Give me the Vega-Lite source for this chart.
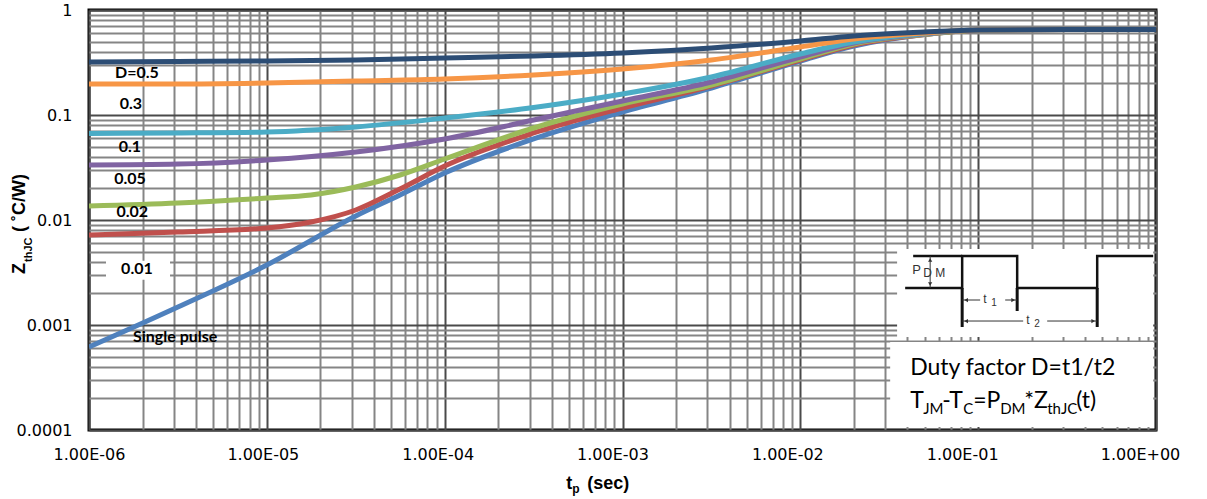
{
  "$schema": "https://vega.github.io/schema/vega-lite/v6.json",
  "width": 1067,
  "height": 420,
  "autosize": "none",
  "padding": {"left": 89, "top": 10, "right": 51, "bottom": 69},
  "background": "white",
  "config": {
    "view": {"stroke": "#000000", "strokeWidth": 3},
    "axis": {"domain": false, "ticks": false, "tickSize": 0, "labelFont": "DejaVu Sans", "labelFontSize": 16, "labelColor": "#000000", "labelOverlap": false, "labelFlush": false, "labelBound": false}
  },
  "datasets": {
    "one": [{}],
    "curves": [
      {"t": 1e-6, "z": 0.000617, "s": "Single pulse"},
      {"t": 3.162e-6, "z": 0.001484, "s": "Single pulse"},
      {"t": 1e-5, "z": 0.003727, "s": "Single pulse"},
      {"t": 3.162e-5, "z": 0.01092, "s": "Single pulse"},
      {"t": 5.61e-5, "z": 0.0173, "s": "Single pulse"},
      {"t": 1e-4, "z": 0.02803, "s": "Single pulse"},
      {"t": 3.162e-4, "z": 0.0591, "s": "Single pulse"},
      {"t": 1e-3, "z": 0.1068, "s": "Single pulse"},
      {"t": 3.162e-3, "z": 0.1807, "s": "Single pulse"},
      {"t": 0.01, "z": 0.3267, "s": "Single pulse"},
      {"t": 0.02, "z": 0.4541, "s": "Single pulse"},
      {"t": 0.05, "z": 0.5843, "s": "Single pulse"},
      {"t": 0.1, "z": 0.64, "s": "Single pulse"},
      {"t": 0.3162, "z": 0.652, "s": "Single pulse"},
      {"t": 1, "z": 0.652, "s": "Single pulse"},
      {"t": 1e-6, "z": 0.0072, "s": "0.01"},
      {"t": 3.162e-6, "z": 0.00769, "s": "0.01"},
      {"t": 1e-5, "z": 0.00839, "s": "0.01"},
      {"t": 1.773e-5, "z": 0.00957, "s": "0.01"},
      {"t": 3.162e-5, "z": 0.01245, "s": "0.01"},
      {"t": 5.61e-5, "z": 0.01973, "s": "0.01"},
      {"t": 1e-4, "z": 0.03268, "s": "0.01"},
      {"t": 3.162e-4, "z": 0.0674, "s": "0.01"},
      {"t": 1e-3, "z": 0.1166, "s": "0.01"},
      {"t": 3.162e-3, "z": 0.1889, "s": "0.01"},
      {"t": 0.01, "z": 0.334, "s": "0.01"},
      {"t": 0.02, "z": 0.4642, "s": "0.01"},
      {"t": 0.05, "z": 0.5843, "s": "0.01"},
      {"t": 0.1, "z": 0.64, "s": "0.01"},
      {"t": 0.3162, "z": 0.652, "s": "0.01"},
      {"t": 1, "z": 0.652, "s": "0.01"},
      {"t": 1e-6, "z": 0.01359, "s": "0.02"},
      {"t": 3.162e-6, "z": 0.01452, "s": "0.02"},
      {"t": 1e-5, "z": 0.0162, "s": "0.02"},
      {"t": 1.773e-5, "z": 0.0173, "s": "0.02"},
      {"t": 3.162e-5, "z": 0.02062, "s": "0.02"},
      {"t": 5.61e-5, "z": 0.02683, "s": "0.02"},
      {"t": 1e-4, "z": 0.0381, "s": "0.02"},
      {"t": 3.162e-4, "z": 0.0752, "s": "0.02"},
      {"t": 1e-3, "z": 0.1272, "s": "0.02"},
      {"t": 3.162e-3, "z": 0.1931, "s": "0.02"},
      {"t": 0.01, "z": 0.3415, "s": "0.02"},
      {"t": 0.02, "z": 0.4746, "s": "0.02"},
      {"t": 0.05, "z": 0.5843, "s": "0.02"},
      {"t": 0.1, "z": 0.64, "s": "0.02"},
      {"t": 0.3162, "z": 0.652, "s": "0.02"},
      {"t": 1, "z": 0.652, "s": "0.02"},
      {"t": 1e-6, "z": 0.0334, "s": "0.05"},
      {"t": 3.162e-6, "z": 0.0341, "s": "0.05"},
      {"t": 1e-5, "z": 0.0373, "s": "0.05"},
      {"t": 3.162e-5, "z": 0.0444, "s": "0.05"},
      {"t": 1e-4, "z": 0.0591, "s": "0.05"},
      {"t": 3.162e-4, "z": 0.0896, "s": "0.05"},
      {"t": 1e-3, "z": 0.136, "s": "0.05"},
      {"t": 3.162e-3, "z": 0.2062, "s": "0.05"},
      {"t": 0.01, "z": 0.3566, "s": "0.05"},
      {"t": 0.02, "z": 0.485, "s": "0.05"},
      {"t": 0.05, "z": 0.5908, "s": "0.05"},
      {"t": 0.1, "z": 0.645, "s": "0.05"},
      {"t": 0.3162, "z": 0.652, "s": "0.05"},
      {"t": 1, "z": 0.652, "s": "0.05"},
      {"t": 1e-6, "z": 0.0666, "s": "0.1"},
      {"t": 3.162e-6, "z": 0.0674, "s": "0.1"},
      {"t": 1e-5, "z": 0.0689, "s": "0.1"},
      {"t": 3.162e-5, "z": 0.0769, "s": "0.1"},
      {"t": 1e-4, "z": 0.0936, "s": "0.1"},
      {"t": 3.162e-4, "z": 0.1179, "s": "0.1"},
      {"t": 1e-3, "z": 0.1585, "s": "0.1"},
      {"t": 3.162e-3, "z": 0.2301, "s": "0.1"},
      {"t": 0.01, "z": 0.3811, "s": "0.1"},
      {"t": 0.02, "z": 0.4956, "s": "0.1"},
      {"t": 0.05, "z": 0.5973, "s": "0.1"},
      {"t": 0.1, "z": 0.645, "s": "0.1"},
      {"t": 0.3162, "z": 0.652, "s": "0.1"},
      {"t": 1, "z": 0.652, "s": "0.1"},
      {"t": 1e-6, "z": 0.1973, "s": "0.3"},
      {"t": 3.162e-6, "z": 0.1973, "s": "0.3"},
      {"t": 1e-5, "z": 0.2017, "s": "0.3"},
      {"t": 3.162e-5, "z": 0.2108, "s": "0.3"},
      {"t": 1e-4, "z": 0.2203, "s": "0.3"},
      {"t": 3.162e-4, "z": 0.2404, "s": "0.3"},
      {"t": 1e-3, "z": 0.2742, "s": "0.3"},
      {"t": 3.162e-3, "z": 0.334, "s": "0.3"},
      {"t": 0.01, "z": 0.4442, "s": "0.3"},
      {"t": 0.02, "z": 0.5295, "s": "0.3"},
      {"t": 0.05, "z": 0.6039, "s": "0.3"},
      {"t": 0.1, "z": 0.645, "s": "0.3"},
      {"t": 0.3162, "z": 0.652, "s": "0.3"},
      {"t": 1, "z": 0.652, "s": "0.3"},
      {"t": 1e-6, "z": 0.3197, "s": "0.5"},
      {"t": 3.162e-6, "z": 0.3232, "s": "0.5"},
      {"t": 1e-5, "z": 0.3267, "s": "0.5"},
      {"t": 3.162e-5, "z": 0.334, "s": "0.5"},
      {"t": 1e-4, "z": 0.349, "s": "0.5"},
      {"t": 3.162e-4, "z": 0.3646, "s": "0.5"},
      {"t": 1e-3, "z": 0.3895, "s": "0.5"},
      {"t": 3.162e-3, "z": 0.4346, "s": "0.5"},
      {"t": 0.01, "z": 0.5068, "s": "0.5"},
      {"t": 0.02, "z": 0.5654, "s": "0.5"},
      {"t": 0.05, "z": 0.6172, "s": "0.5"},
      {"t": 0.1, "z": 0.645, "s": "0.5"},
      {"t": 0.3162, "z": 0.652, "s": "0.5"},
      {"t": 1, "z": 0.652, "s": "0.5"}
    ],
    "labels": [
      {"t": 1.86e-6, "z": 0.251, "label": "D=0.5"},
      {"t": 1.72e-6, "z": 0.127, "label": "0.3"},
      {"t": 1.70e-6, "z": 0.0496, "label": "0.1"},
      {"t": 1.70e-6, "z": 0.0246, "label": "0.05"},
      {"t": 1.75e-6, "z": 0.0119, "label": "0.02"},
      {"t": 1.86e-6, "z": 0.00341, "label": "0.01"},
      {"t": 3.05e-6, "z": 0.000769, "label": "Single pulse"}
    ],
    "pulse": [
      {"part": "wave", "seg": 1, "o": 1, "t": 0.03886, "z": 0.002251},
      {"part": "wave", "seg": 1, "o": 2, "t": 0.08128, "z": 0.002251},
      {"part": "wave", "seg": 1, "o": 3, "t": 0.08128, "z": 0.004541},
      {"part": "wave", "seg": 1, "o": 4, "t": 0.1657, "z": 0.004541},
      {"part": "wave", "seg": 1, "o": 5, "t": 0.1657, "z": 0.002251},
      {"part": "wave", "seg": 1, "o": 6, "t": 0.467, "z": 0.002251},
      {"part": "wave", "seg": 1, "o": 7, "t": 0.467, "z": 0.004541},
      {"part": "wave", "seg": 1, "o": 8, "t": 0.9645, "z": 0.004541},
      {"part": "wave", "seg": 2, "o": 1, "t": 0.0431, "z": 0.004541},
      {"part": "wave", "seg": 2, "o": 2, "t": 0.08128, "z": 0.004541},
      {"part": "thin", "seg": 3, "o": 1, "t": 0.0537, "z": 0.004541},
      {"part": "thin", "seg": 3, "o": 2, "t": 0.0537, "z": 0.002251},
      {"part": "mark", "seg": 4, "o": 1, "t": 0.08128, "z": 0.002251},
      {"part": "mark", "seg": 4, "o": 2, "t": 0.08128, "z": 0.000957},
      {"part": "mark", "seg": 5, "o": 1, "t": 0.1657, "z": 0.002251},
      {"part": "mark", "seg": 5, "o": 2, "t": 0.1657, "z": 0.001359},
      {"part": "mark", "seg": 6, "o": 1, "t": 0.467, "z": 0.002251},
      {"part": "mark", "seg": 6, "o": 2, "t": 0.467, "z": 0.000957},
      {"part": "thin", "seg": 7, "o": 1, "t": 0.08128, "z": 0.00173},
      {"part": "thin", "seg": 7, "o": 2, "t": 0.1026, "z": 0.00173},
      {"part": "thin", "seg": 8, "o": 1, "t": 0.1419, "z": 0.00173},
      {"part": "thin", "seg": 8, "o": 2, "t": 0.1657, "z": 0.00173},
      {"part": "thin", "seg": 9, "o": 1, "t": 0.08128, "z": 0.001091},
      {"part": "thin", "seg": 9, "o": 2, "t": 0.1791, "z": 0.001091},
      {"part": "thin", "seg": 10, "o": 1, "t": 0.2444, "z": 0.001091},
      {"part": "thin", "seg": 10, "o": 2, "t": 0.467, "z": 0.001091}
    ],
    "arrows": [
      {"t": 0.0537, "z": 0.004159, "dir": "up"},
      {"t": 0.0537, "z": 0.002458, "dir": "down"},
      {"t": 0.0856, "z": 0.00173, "dir": "left"},
      {"t": 0.1573, "z": 0.00173, "dir": "right"},
      {"t": 0.0856, "z": 0.001091, "dir": "left"},
      {"t": 0.4434, "z": 0.001091, "dir": "right"}
    ]
  },
  "layer": [
    {
      "data": {"name": "curves"},
      "mark": {"type": "line", "strokeWidth": 5, "interpolate": "monotone", "clip": true},
      "encoding": {
        "x": {
          "field": "t", "type": "quantitative",
          "scale": {"type": "log", "domain": [1e-6, 1], "nice": false},
          "axis": {
            "title": null, "orient": "bottom", "grid": true, "labelPadding": 16, "labelAlign": "center",
            "values": [1e-6,2e-6,3e-6,4e-6,5e-6,6e-6,7e-6,8e-6,9e-6,1e-5,2e-5,3e-5,4e-5,5e-5,6e-5,7e-5,8e-5,9e-5,1e-4,2e-4,3e-4,4e-4,5e-4,6e-4,7e-4,8e-4,9e-4,1e-3,2e-3,3e-3,4e-3,5e-3,6e-3,7e-3,8e-3,9e-3,0.01,0.02,0.03,0.04,0.05,0.06,0.07,0.08,0.09,0.1,0.2,0.3,0.4,0.5,0.6,0.7,0.8,0.9,1],
            "labelExpr": "abs(log(datum.value)/LN10 - round(log(datum.value)/LN10)) < 0.01 ? '1.00E' + (round(log(datum.value)/LN10) < 0 ? '-' : '+') + '0' + abs(round(log(datum.value)/LN10)) : ''",
            "labelOffset": {"condition": [
              {"test": "abs(log(datum.value)/LN10 + 5) < 0.01", "value": -4},
              {"test": "abs(log(datum.value)/LN10 + 4) < 0.01", "value": -7},
              {"test": "abs(log(datum.value)/LN10 + 3) < 0.01", "value": -10},
              {"test": "abs(log(datum.value)/LN10 + 2) < 0.01", "value": -13},
              {"test": "abs(log(datum.value)/LN10 + 1) < 0.01", "value": -16},
              {"test": "abs(log(datum.value)/LN10) < 0.01", "value": -16}
            ], "value": 0},
            "gridColor": {"condition": {"test": "abs(log(datum.value)/LN10 - round(log(datum.value)/LN10)) < 0.01", "value": "#4a4a4a"}, "value": "#858585"},
            "gridWidth": 2
          }
        },
        "y": {
          "field": "z", "type": "quantitative",
          "scale": {"type": "log", "domain": [0.0001, 1], "nice": false},
          "axis": {
            "title": null, "grid": true, "labelPadding": 17,
            "values": [0.0001,0.0002,0.0003,0.0004,0.0005,0.0006,0.0007,0.0008,0.0009,0.001,0.002,0.003,0.004,0.005,0.006,0.007,0.008,0.009,0.01,0.02,0.03,0.04,0.05,0.06,0.07,0.08,0.09,0.1,0.2,0.3,0.4,0.5,0.6,0.7,0.8,0.9,1],
            "labelExpr": "abs(log(datum.value)/LN10 - round(log(datum.value)/LN10)) < 0.01 ? format(datum.value, '~g') : ''",
            "gridColor": {"condition": {"test": "abs(log(datum.value)/LN10 - round(log(datum.value)/LN10)) < 0.01", "value": "#4a4a4a"}, "value": "#858585"},
            "gridWidth": 2
          }
        },
        "color": {
          "field": "s", "type": "nominal", "legend": null,
          "scale": {"domain": ["Single pulse", "0.01", "0.02", "0.05", "0.1", "0.3", "0.5"], "range": ["#4F81BD", "#C0504D", "#9BBB59", "#8064A2", "#4BACC6", "#F79646", "#2C4D75"]}
        }
      }
    },
    {
      "data": {"name": "one"},
      "mark": {"type": "rect", "fill": "white"},
      "encoding": {"x": {"datum": 1.246e-6}, "x2": {"datum": 2.855e-6}, "y": {"datum": 0.0041}, "y2": {"datum": 0.0027}}
    },
    {
      "data": {"name": "one"},
      "mark": {"type": "rect", "fill": "white"},
      "encoding": {"x": {"datum": 0.035}, "x2": {"datum": 0.964}, "y": {"datum": 0.0053}, "y2": {"datum": 0.000769}}
    },
    {
      "data": {"name": "one"},
      "mark": {"type": "rect", "fill": "white"},
      "encoding": {"x": {"datum": 0.032}, "x2": {"datum": 0.964}, "y": {"datum": 0.000689}, "y2": {"datum": 0.000107}}
    },
    {
      "data": {"name": "labels"},
      "mark": {"type": "text", "font": "Lato", "fontSize": 16, "fontWeight": "bold", "color": "#000000", "align": "center", "baseline": "middle"},
      "encoding": {"x": {"field": "t", "type": "quantitative"}, "y": {"field": "z", "type": "quantitative"}, "text": {"field": "label"}}
    },
    {
      "data": {"name": "pulse"},
      "transform": [{"filter": "datum.part == 'wave'"}],
      "mark": {"type": "line", "color": "#111111", "strokeWidth": 2.5},
      "encoding": {"x": {"field": "t", "type": "quantitative"}, "y": {"field": "z", "type": "quantitative"}, "detail": {"field": "seg"}, "order": {"field": "o"}}
    },
    {
      "data": {"name": "pulse"},
      "transform": [{"filter": "datum.part == 'mark'"}],
      "mark": {"type": "line", "color": "#111111", "strokeWidth": 3},
      "encoding": {"x": {"field": "t", "type": "quantitative"}, "y": {"field": "z", "type": "quantitative"}, "detail": {"field": "seg"}, "order": {"field": "o"}}
    },
    {
      "data": {"name": "pulse"},
      "transform": [{"filter": "datum.part == 'thin'"}],
      "mark": {"type": "line", "color": "#333333", "strokeWidth": 1},
      "encoding": {"x": {"field": "t", "type": "quantitative"}, "y": {"field": "z", "type": "quantitative"}, "detail": {"field": "seg"}, "order": {"field": "o"}}
    },
    {
      "data": {"name": "arrows"},
      "mark": {"type": "point", "filled": true, "color": "#333333", "size": 18, "opacity": 1},
      "encoding": {
        "x": {"field": "t", "type": "quantitative"},
        "y": {"field": "z", "type": "quantitative"},
        "shape": {"field": "dir", "type": "nominal", "legend": null, "scale": {"domain": ["up", "down", "left", "right"], "range": ["triangle-up", "triangle-down", "triangle-left", "triangle-right"]}}
      }
    },
    {
      "data": {"name": "one"},
      "mark": {"type": "text", "font": "Liberation Sans", "fontSize": 13, "color": "#333333", "align": "left", "baseline": "alphabetic"},
      "encoding": {"x": {"datum": 0.04254}, "y": {"datum": 0.00306}, "text": {"value": "P"}}
    },
    {
      "data": {"name": "one"},
      "mark": {"type": "text", "font": "Liberation Sans", "fontSize": 12, "color": "#333333", "align": "left", "baseline": "alphabetic", "dx": 11, "dy": 3},
      "encoding": {"x": {"datum": 0.04254}, "y": {"datum": 0.00306}, "text": {"value": "D M"}}
    },
    {
      "data": {"name": "one"},
      "mark": {"type": "text", "font": "Liberation Sans", "fontSize": 12, "color": "#333333", "align": "left", "baseline": "alphabetic"},
      "encoding": {"x": {"datum": 0.1067}, "y": {"datum": 0.001621}, "text": {"value": "t"}}
    },
    {
      "data": {"name": "one"},
      "mark": {"type": "text", "font": "Liberation Sans", "fontSize": 10, "color": "#333333", "align": "left", "baseline": "alphabetic", "dx": 8, "dy": 3},
      "encoding": {"x": {"datum": 0.1067}, "y": {"datum": 0.001621}, "text": {"value": "1"}}
    },
    {
      "data": {"name": "one"},
      "mark": {"type": "text", "font": "Liberation Sans", "fontSize": 12, "color": "#333333", "align": "left", "baseline": "alphabetic"},
      "encoding": {"x": {"datum": 0.1862}, "y": {"datum": 0.001022}, "text": {"value": "t"}}
    },
    {
      "data": {"name": "one"},
      "mark": {"type": "text", "font": "Liberation Sans", "fontSize": 10, "color": "#333333", "align": "left", "baseline": "alphabetic", "dx": 8, "dy": 3},
      "encoding": {"x": {"datum": 0.1862}, "y": {"datum": 0.001022}, "text": {"value": "2"}}
    },
    {
      "data": {"name": "one"},
      "mark": {"type": "text", "font": "Lato", "fontSize": 23, "color": "#000000", "align": "left", "baseline": "alphabetic"},
      "encoding": {"x": {"datum": 0.04145}, "y": {"datum": 0.000334}, "text": {"value": "Duty factor D=t1/t2"}}
    },
    {
      "data": {"name": "one"},
      "mark": {"type": "text", "font": "Lato", "fontSize": 23, "color": "#000000", "align": "left", "baseline": "alphabetic"},
      "encoding": {"x": {"datum": 0.04145}, "y": {"datum": 0.000162}, "text": {"value": "T"}}
    },
    {
      "data": {"name": "one"},
      "mark": {"type": "text", "font": "Lato", "fontSize": 15, "color": "#000000", "align": "left", "baseline": "alphabetic", "dx": 13, "dy": 6},
      "encoding": {"x": {"datum": 0.04145}, "y": {"datum": 0.000162}, "text": {"value": "JM"}}
    },
    {
      "data": {"name": "one"},
      "mark": {"type": "text", "font": "Lato", "fontSize": 23, "color": "#000000", "align": "left", "baseline": "alphabetic", "dx": 32},
      "encoding": {"x": {"datum": 0.04145}, "y": {"datum": 0.000162}, "text": {"value": "-T"}}
    },
    {
      "data": {"name": "one"},
      "mark": {"type": "text", "font": "Lato", "fontSize": 15, "color": "#000000", "align": "left", "baseline": "alphabetic", "dx": 53, "dy": 6},
      "encoding": {"x": {"datum": 0.04145}, "y": {"datum": 0.000162}, "text": {"value": "C"}}
    },
    {
      "data": {"name": "one"},
      "mark": {"type": "text", "font": "Lato", "fontSize": 23, "color": "#000000", "align": "left", "baseline": "alphabetic", "dx": 63},
      "encoding": {"x": {"datum": 0.04145}, "y": {"datum": 0.000162}, "text": {"value": "=P"}}
    },
    {
      "data": {"name": "one"},
      "mark": {"type": "text", "font": "Lato", "fontSize": 15, "color": "#000000", "align": "left", "baseline": "alphabetic", "dx": 90, "dy": 6},
      "encoding": {"x": {"datum": 0.04145}, "y": {"datum": 0.000162}, "text": {"value": "DM"}}
    },
    {
      "data": {"name": "one"},
      "mark": {"type": "text", "font": "Lato", "fontSize": 23, "color": "#000000", "align": "left", "baseline": "alphabetic", "dx": 114},
      "encoding": {"x": {"datum": 0.04145}, "y": {"datum": 0.000162}, "text": {"value": "*Z"}}
    },
    {
      "data": {"name": "one"},
      "mark": {"type": "text", "font": "Lato", "fontSize": 15, "color": "#000000", "align": "left", "baseline": "alphabetic", "dx": 137, "dy": 6},
      "encoding": {"x": {"datum": 0.04145}, "y": {"datum": 0.000162}, "text": {"value": "thJC"}}
    },
    {
      "data": {"name": "one"},
      "mark": {"type": "text", "font": "Lato", "fontSize": 23, "color": "#000000", "align": "left", "baseline": "alphabetic", "dx": 166},
      "encoding": {"x": {"datum": 0.04145}, "y": {"datum": 0.000162}, "text": {"value": "(t)"}}
    },
    {
      "data": {"name": "one"},
      "mark": {"type": "text", "font": "Liberation Sans", "fontSize": 18, "fontWeight": "bold", "color": "#000000", "align": "left", "baseline": "alphabetic"},
      "encoding": {"x": {"datum": 0.000482}, "y": {"datum": 2.74e-5}, "text": {"value": "t"}}
    },
    {
      "data": {"name": "one"},
      "mark": {"type": "text", "font": "Liberation Sans", "fontSize": 12, "fontWeight": "bold", "color": "#000000", "align": "left", "baseline": "alphabetic", "dx": 6, "dy": 4},
      "encoding": {"x": {"datum": 0.000482}, "y": {"datum": 2.74e-5}, "text": {"value": "p"}}
    },
    {
      "data": {"name": "one"},
      "mark": {"type": "text", "font": "Liberation Sans", "fontSize": 18, "fontWeight": "bold", "color": "#000000", "align": "left", "baseline": "alphabetic", "dx": 21},
      "encoding": {"x": {"datum": 0.000482}, "y": {"datum": 2.74e-5}, "text": {"value": "(sec)"}}
    },
    {
      "data": {"name": "one"},
      "mark": {"type": "text", "font": "Liberation Sans", "fontSize": 18, "fontWeight": "bold", "color": "#000000", "align": "left", "baseline": "alphabetic", "angle": 270},
      "encoding": {"x": {"datum": 4.365e-7}, "y": {"datum": 0.003062}, "text": {"value": "Z"}}
    },
    {
      "data": {"name": "one"},
      "mark": {"type": "text", "font": "Liberation Sans", "fontSize": 11, "fontWeight": "bold", "color": "#000000", "align": "left", "baseline": "alphabetic", "angle": 270, "dx": 12, "dy": 7},
      "encoding": {"x": {"datum": 4.365e-7}, "y": {"datum": 0.003062}, "text": {"value": "thJC"}}
    },
    {
      "data": {"name": "one"},
      "mark": {"type": "text", "font": "Liberation Sans", "fontSize": 18, "fontWeight": "bold", "color": "#000000", "align": "left", "baseline": "alphabetic", "angle": 270, "dx": 42},
      "encoding": {"x": {"datum": 4.365e-7}, "y": {"datum": 0.003062}, "text": {"value": "( ˚C/W)"}}
    }
  ]
}
